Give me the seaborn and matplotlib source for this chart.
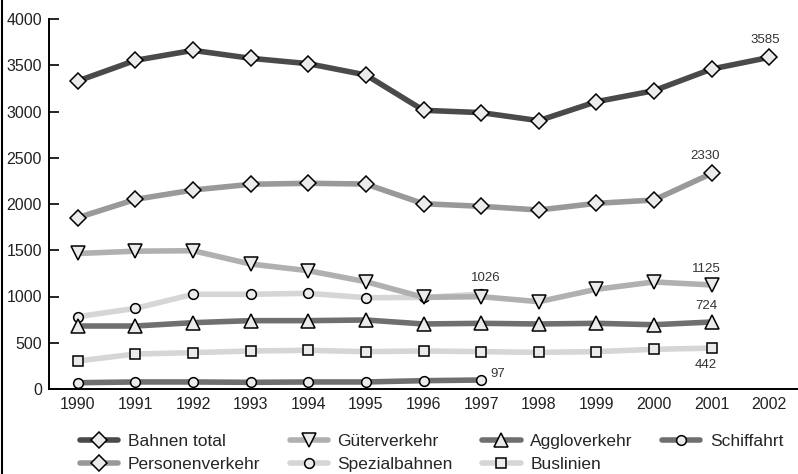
import numpy as np
import pandas as pd
import matplotlib
matplotlib.use("Agg")
import matplotlib.pyplot as plt
from matplotlib.lines import Line2D
import seaborn as sns

years = list(range(1990, 2003))

bahnen_total = [3330, 3553, 3661, 3575, 3517, 3395, 3013, 2988, 2901, 3106, 3225, 3459, 3585]
personenverkehr = [1852, 2050, 2151, 2213, 2224, 2216, 2003, 1975, 1935, 2007, 2043, 2330, np.nan]
gueterverkehr = [1465, 1490, 1495, 1351, 1279, 1160, 991, 998, 944, 1078, 1157, 1125, np.nan]
spezialbahnen = [782, 872, 1024, 1024, 1034, 987, 990, 1026, np.nan, np.nan, np.nan, np.nan, np.nan]
aggloverkehr = [681, 681, 717, 739, 739, 746, 703, 710, 703, 710, 695, 724, np.nan]
buslinien = [303, 378, 393, 411, 418, 404, 411, 404, 396, 404, 429, 442, np.nan]
schiffahrt = [68, 76, 76, 72, 76, 76, 90, 97, np.nan, np.nan, np.nan, np.nan, np.nan]

sns.set_style("white")
plt.rcParams['font.family'] = ['Liberation Sans', 'DejaVu Sans']

fig = plt.figure(figsize=(7.98, 4.74), dpi=100)
ax = fig.add_axes([49 / 798, 1 - 389 / 474, 1 - 49 / 798, (389 - 19) / 474])

# name, values, color, marker, markersize  (draw order)
series = [
    ("Spezialbahnen", spezialbahnen, "#d6d6d6", "o", 7),
    ("Buslinien", buslinien, "#d6d6d6", "s", 7),
    ("Schiffahrt", schiffahrt, "#6f6f6f", "o", 7),
    ("Aggloverkehr", aggloverkehr, "#6f6f6f", "^", 10),
    ("Güterverkehr", gueterverkehr, "#b0b0b0", "v", 10),
    ("Personenverkehr", personenverkehr, "#999999", "D", 8),
    ("Bahnen total", bahnen_total, "#4a4a4a", "D", 8),
]

for name, vals, col, mk, ms in series:
    df = pd.DataFrame({"year": years, "value": vals}).dropna()
    sns.lineplot(data=df, x="year", y="value", ax=ax, color=col, lw=4.0,
                 marker=mk, markersize=ms, markerfacecolor="#ebebeb",
                 markeredgecolor="black", markeredgewidth=1.1, label=name)

ax.set_xlim(1989.5, 2002.5)
ax.set_ylim(0, 4000)
ax.set_xlabel("")
ax.set_ylabel("")
ax.set_xticks(years)
ax.set_xticklabels([str(y) for y in years])
ax.set_xticks([y + 0.5 for y in years[:-1]], minor=True)
ax.set_yticks([0, 500, 1000, 1500, 2000, 2500, 3000, 3500, 4000])
ax.tick_params(axis="x", which="major", length=0, pad=6, labelsize=11.5, colors="#222222")
ax.tick_params(axis="x", which="minor", direction="in", length=6, width=1.2, color="black")
ax.tick_params(axis="y", direction="in", length=7, width=1.2, pad=5, labelsize=11.5,
               colors="#222222", left=True)
ax.tick_params(axis="y", color="black")
for s in ["top", "right"]:
    ax.spines[s].set_visible(False)
for s in ["left", "bottom"]:
    ax.spines[s].set_color("black")
    ax.spines[s].set_linewidth(1.4)

labels = [
    ("3585", 2002, 3585, (-3, 8), "center", "bottom"),
    ("2330", 2001, 2330, (-5, 8), "center", "bottom"),
    ("1026", 1997, 1026, (3, 7), "center", "bottom"),
    ("1125", 2001, 1125, (-4, 7), "center", "bottom"),
    ("724", 2001, 724, (-4, 7), "center", "bottom"),
    ("442", 2001, 442, (-4, -8), "center", "top"),
    ("97", 1997, 97, (7, 4), "left", "center"),
]
for txt, x, y, off, ha, va in labels:
    ax.annotate(txt, (x, y), xytext=off, textcoords="offset points",
                ha=ha, va=va, fontsize=9.5, color="#333333")

order = ["Bahnen total", "Personenverkehr", "Güterverkehr", "Spezialbahnen",
         "Aggloverkehr", "Buslinien", "Schiffahrt"]
h, l = ax.get_legend_handles_labels()
hd = dict(zip(l, h))
ax.legend([hd[n] for n in order], order, ncol=4, frameon=False,
          loc="upper left", bbox_to_anchor=(80 / 798, 1 - 434 / 474),
          bbox_transform=fig.transFigure, fontsize=12.5, handlelength=2.2,
          handletextpad=0.55, columnspacing=1.7, labelspacing=0.45,
          borderaxespad=0, borderpad=0, numpoints=1)

fig.add_artist(Line2D([1.5 / 798, 1.5 / 798], [0, 1], color="black", lw=1.5,
                      transform=fig.transFigure))

fig.savefig("out.png", dpi=100)
